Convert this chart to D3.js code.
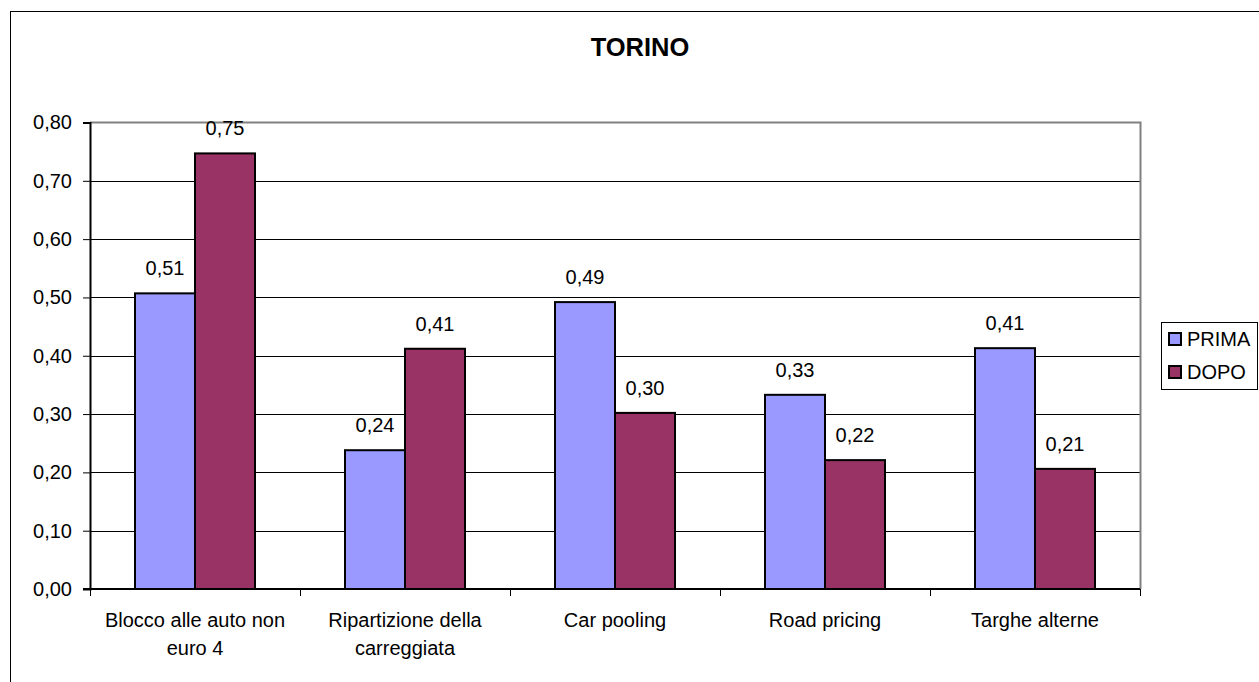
<!DOCTYPE html>
<html>
<head>
<meta charset="utf-8">
<script src="https://cdn.jsdelivr.net/npm/d3@7/dist/d3.min.js"></script>
<style>
  html, body { margin: 0; padding: 0; background: #fff; }
  svg { display: block; font-family: "Liberation Sans", Arial, sans-serif; }
</style>
</head>
<body>
<svg id="chart" width="1259" height="682"></svg>
<script>
// Chart data
const title = "TORINO";
const categories = [
  "Blocco alle auto non euro 4",
  "Ripartizione della carreggiata",
  "Car pooling",
  "Road pricing",
  "Targhe alterne"
];
const seriesNames = ["PRIMA", "DOPO"];
const prima = [0.507, 0.238, 0.492, 0.333, 0.413];
const dopo  = [0.747, 0.412, 0.302, 0.221, 0.206];
const yTicks = [0, 0.1, 0.2, 0.3, 0.4, 0.5, 0.6, 0.7, 0.8];
const colors = ["#9999FF", "#993366"];

const series = [prima, dopo];
const svg = d3.select("#chart");

// outer chart frame
svg.append("rect")
  .attr("x", 10.5).attr("y", 11.5)
  .attr("width", 1300).attr("height", 700)
  .attr("fill", "#fff").attr("stroke", "#000").attr("stroke-width", 1);

const plot = { left: 90, right: 1140, top: 122.5, bottom: 589 };

const x0 = d3.scaleBand().domain(categories).range([plot.left, plot.right]).padding(0);
const x1 = d3.scaleBand().domain(seriesNames).range([0, x0.bandwidth()])
  .paddingInner(0).paddingOuter(0.75);
const y = d3.scaleLinear().domain([0, 0.8]).range([plot.bottom, plot.top]);

const fmt = v => d3.format(".2f")(v).replace(".", ",");

// title
svg.append("text")
  .attr("x", 640).attr("y", 56)
  .attr("text-anchor", "middle")
  .attr("font-size", 25.5).attr("font-weight", "bold")
  .text(title);

// gridlines
svg.append("g")
  .selectAll("line")
  .data(yTicks.filter(t => t > 0 && t < 0.8))
  .join("line")
  .attr("x1", plot.left).attr("x2", plot.right)
  .attr("y1", d => Math.round(y(d)) + 0.5).attr("y2", d => Math.round(y(d)) + 0.5)
  .attr("stroke", "#000").attr("stroke-width", 1);

// plot area border (top and right)
svg.append("path")
  .attr("d", `M${plot.left},${plot.top}H${plot.right + 0.5}V${plot.bottom}`)
  .attr("fill", "none").attr("stroke", "#808080").attr("stroke-width", 2);

// bars
const groups = svg.append("g")
  .selectAll("g")
  .data(categories)
  .join("g")
  .attr("transform", d => `translate(${x0(d)},0)`);

groups.selectAll("rect")
  .data((d, i) => seriesNames.map((s, j) => ({ s, j, v: series[j][i] })))
  .join("rect")
  .attr("x", d => x1(d.s))
  .attr("y", d => y(d.v))
  .attr("width", x1.bandwidth())
  .attr("height", d => y(0) - y(d.v))
  .attr("fill", d => colors[d.j])
  .attr("stroke", "#000").attr("stroke-width", 2);

// value labels
groups.selectAll("text")
  .data((d, i) => seriesNames.map((s, j) => ({ s, j, v: series[j][i] })))
  .join("text")
  .attr("x", d => x1(d.s) + x1.bandwidth() / 2)
  .attr("y", d => y(d.v) - 18)
  .attr("text-anchor", "middle")
  .attr("font-size", 20)
  .text(d => fmt(d.v));

// y axis
const yAxis = d3.axisLeft(y).tickValues(yTicks).tickSize(7).tickPadding(11).tickFormat(fmt);
const gy = svg.append("g").attr("transform", `translate(${plot.left},0)`).call(yAxis);
gy.select(".domain").attr("stroke", "#000").attr("stroke-width", 2);
gy.selectAll(".tick line").attr("stroke", "#000").attr("stroke-width", 1);
gy.selectAll(".tick text").attr("font-size", 20).attr("fill", "#000")
  .attr("font-family", "'Liberation Sans', Arial, sans-serif");

// x axis: category boundary ticks
const gx = svg.append("g");
gx.append("line")
  .attr("x1", plot.left - 7).attr("x2", plot.right)
  .attr("y1", plot.bottom).attr("y2", plot.bottom)
  .attr("stroke", "#000").attr("stroke-width", 2);
const bounds = categories.map(c => x0(c)).concat([x0(categories[categories.length - 1]) + x0.bandwidth()]);
gx.selectAll("line.b")
  .data(bounds)
  .join("line").attr("class", "b")
  .attr("x1", d => Math.round(d) + 0.5).attr("x2", d => Math.round(d) + 0.5)
  .attr("y1", plot.bottom).attr("y2", plot.bottom + 7)
  .attr("stroke", "#000").attr("stroke-width", 1);

// category labels, wrapped to the category width
const maxW = 196;
categories.forEach(c => {
  const cx = x0(c) + x0.bandwidth() / 2;
  const t = gx.append("text")
    .attr("x", cx)
    .attr("y", 627)
    .attr("text-anchor", "middle")
    .attr("font-size", 20);
  const words = c.split(" ");
  let line = [];
  let ts = t.append("tspan").attr("x", cx).attr("dy", 0);
  words.forEach(w => {
    line.push(w);
    ts.text(line.join(" "));
    if (ts.node().getComputedTextLength() > maxW && line.length > 1) {
      line.pop();
      ts.text(line.join(" "));
      line = [w];
      ts = t.append("tspan").attr("x", cx).attr("dy", 28).text(w);
    }
  });
});

// legend
const lg = svg.append("g");
lg.append("rect")
  .attr("x", 1161.5).attr("y", 322.5).attr("width", 96).attr("height", 67)
  .attr("fill", "#fff").attr("stroke", "#000").attr("stroke-width", 1);
seriesNames.forEach((s, j) => {
  const yy = 333 + j * 33;
  lg.append("rect")
    .attr("x", 1169).attr("y", yy).attr("width", 12).attr("height", 12)
    .attr("fill", colors[j]).attr("stroke", "#000").attr("stroke-width", 2);
  lg.append("text")
    .attr("x", 1187).attr("y", yy + 13)
    .attr("font-size", 20)
    .text(s);
});
</script>
</body>
</html>
